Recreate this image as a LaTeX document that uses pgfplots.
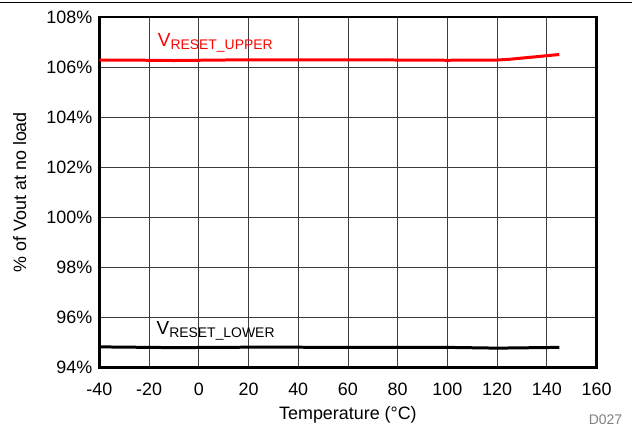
\documentclass[border=0pt]{standalone}
\usepackage{fontspec}
\setmainfont{Liberation Sans}
\usepackage{pgfplots}
\pgfplotsset{compat=1.18}

\definecolor{tiRed}{RGB}{255,0,0}
\definecolor{gridGray}{RGB}{60,60,60}

\newcommand{\vsub}[1]{{\fontsize{19}{21}\selectfont V}\raisebox{-3bp}{\fontsize{14}{16}\selectfont #1}}

\begin{document}
\fontsize{18}{21}\selectfont
\begin{tikzpicture}
\begin{axis}[
    scale only axis,
    width=498bp, height=351bp,
    xmin=-40, xmax=160,
    ymin=94, ymax=108,
    xtick={-40,-20,...,160},
    ytick={94,96,...,108},
    yticklabel={\pgfmathprintnumber{\tick}\%},
    /pgf/number format/assume math mode=true,
    grid=major,
    major grid style={gridGray, line width=0.9bp},
    major tick length=0pt,
    axis line style={black, line width=2.5bp},
    tick label style={font=\fontsize{18}{21}\selectfont},
    xticklabel style={yshift=-9bp},
    yticklabel style={xshift=-1bp},
    xlabel={Temperature (°C)},
    ylabel={\% of Vout at no load},
    label style={font=\fontsize{18}{21}\selectfont},
    xlabel style={yshift=1bp},
    ylabel style={yshift=8bp},
    clip=false,
]
\addplot[tiRed, line width=3bp] coordinates {
    (-40,106.28) (-20,106.27) (-10,106.26) (0,106.27) (20,106.29)
    (40,106.29) (60,106.29) (80,106.28) (100,106.27) (120,106.28)
    (125,106.31) (145,106.50)
};
\addplot[black, line width=3bp] coordinates {
    (-40,94.82) (-10,94.79) (25,94.81) (60,94.80) (100,94.80)
    (120,94.77) (145,94.80)
};
\node[tiRed, anchor=west, inner sep=0pt] at (axis cs:-16.5,106.95)
    {\vsub{RESET\_UPPER}};
\node[black, anchor=west, inner sep=0pt] at (axis cs:-17,95.45)
    {\vsub{RESET\_LOWER}};
\node[gray, anchor=east, inner sep=0pt, font=\fontsize{14}{16}\selectfont]
    at (rel axis cs:1.052,-0.148) {D027};
\draw[black, line width=1bp] (rel axis cs:-0.1988,1.0427) -- (rel axis cs:1.0703,1.0427);
\path (rel axis cs:-0.1988,-0.171) rectangle (rel axis cs:1.0703,1.0484);
\end{axis}
\end{tikzpicture}
\end{document}
